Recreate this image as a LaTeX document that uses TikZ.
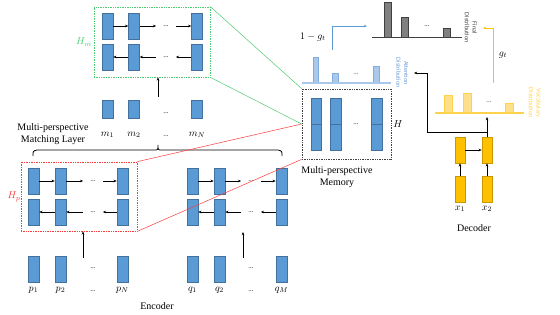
\documentclass[tikz,border=0pt]{standalone}
\usepackage{fontspec}
\setmainfont{Liberation Serif}
\newfontfamily\labfont{Carlito}
\usetikzlibrary{arrows.meta}
\definecolor{bfill}{HTML}{5B9BD5}
\definecolor{bdraw}{HTML}{41719C}
\definecolor{lbfill}{HTML}{A9C8EA}
\definecolor{lbdraw}{HTML}{7FAEDD}
\definecolor{lbtext}{HTML}{6F9FD8}
\definecolor{yfill}{HTML}{FFC000}
\definecolor{ydraw}{HTML}{C99700}
\definecolor{lyfill}{HTML}{FFE08A}
\definecolor{lydraw}{HTML}{FFD24D}
\definecolor{gfill}{HTML}{808080}
\definecolor{gdraw}{HTML}{404040}
\definecolor{grn}{HTML}{4FCB72}
\definecolor{rd}{HTML}{FF3B3B}
\begin{document}
\begin{tikzpicture}[x=1pt,y=-1pt,
  blk/.style={draw=bdraw,fill=bfill,line width=0.5pt,minimum width=11pt,minimum height=26pt,inner sep=0pt},
  sblk/.style={blk,minimum height=18pt},
  mblk/.style={blk,minimum width=10.5pt},
  yblk/.style={draw=ydraw,fill=yfill,line width=0.5pt,minimum width=10pt,minimum height=26pt,inner sep=0pt},
  dts/.style={font=\fontsize{7}{7}\selectfont,inner xsep=7pt,inner ysep=0pt},
  dtxt/.style={font=\fontsize{7}{7}\selectfont,inner sep=0pt},
  arr/.style={-{Stealth[length=3.2pt,width=2.6pt]},line width=0.8pt,black},
  lbl/.style={font=\fontsize{10}{12}\selectfont,inner sep=0pt},
  rot/.style={rotate=-90,align=center,font=\labfont\fontsize{6.3}{7.8}\selectfont,inner sep=0pt},
  attbar/.style={draw=lbdraw,fill=lbfill,line width=0.6pt},
  voc/.style={draw=lydraw,fill=lyfill,line width=0.6pt},
  fin/.style={draw=gdraw,fill=gfill,line width=0.6pt}
]
\useasboundingbox (0,0) rectangle (560,315);

% ---------- H_m box ----------
\node[draw=grn,densely dotted,line width=0.7pt,minimum width=116pt,minimum height=70pt,inner sep=0pt] (Hm) at (152,42) {};
\node[text=grn,lbl] at (84,42) {$H_m$};
\node[blk] (hmt1) at (107.5,26) {};
\node[blk] (hmt2) at (134,26) {};
\node[blk] (hmt3) at (197,26) {};
\node[blk] (hmb1) at (107.5,57) {};
\node[blk] (hmb2) at (134,57) {};
\node[blk] (hmb3) at (197,57) {};
\node[dts] (hmtd) at (166,26) {...};
\node[dts] (hmbd) at (166,57) {...};
\draw[arr] (hmt1) -- (hmt2);
\draw[arr] (hmt2) -- (hmtd);
\draw[arr] (hmtd) -- (hmt3);
\draw[arr] (hmb2) -- (hmb1);
\draw[arr] (hmbd) -- (hmb2);
\draw[arr] (hmb3) -- (hmbd);

% ---------- m row ----------
\node[sblk] (m1) at (107.5,109) {};
\node[sblk] (m2) at (134,109) {};
\node[sblk] (m3) at (197,109) {};
\node[dtxt] (md1) at (166,113) {...};
\node[lbl] (m1l) at (107.5,135) {$m_1$};
\node[lbl] (m2l) at (134,135) {$m_2$};
\node[dtxt] (md2) at (166,136) {...};
\node[lbl] (m3l) at (197,135) {$m_N$};
\coordinate (mup) at (158,97);
\draw[arr] (mup) -- (mup |- Hm.south);

\node[lbl,align=center] (mpml) at (53,134) {Multi-perspective\\Matching Layer};

% brace
\draw[line width=0.8pt] (33,156) .. controls (33,151) .. (37,150) -- (154,150) .. controls (158,150) .. (158,145)
  .. controls (158,150) .. (162,150) -- (278,150) .. controls (282,151) .. (282,156);

% ---------- H_p box ----------
\node[draw=rd,densely dotted,line width=0.7pt,minimum width=116pt,minimum height=69pt,inner sep=0pt] (Hp) at (79,196.5) {};
\node[text=rd,lbl] at (14,197) {$H_p$};
\node[blk] (hpt1) at (33.5,181) {};
\node[blk] (hpt2) at (60.5,181) {};
\node[blk] (hpt3) at (122.5,181) {};
\node[blk] (hpb1) at (33.5,212) {};
\node[blk] (hpb2) at (60.5,212) {};
\node[blk] (hpb3) at (122.5,212) {};
\node[dts] (hptd) at (93,181) {...};
\node[dts] (hpbd) at (93,212) {...};
\draw[arr] (hpt1) -- (hpt2);
\draw[arr] (hpt2) -- (hptd);
\draw[arr] (hptd) -- (hpt3);
\draw[arr] (hpb2) -- (hpb1);
\draw[arr] (hpbd) -- (hpb2);
\draw[arr] (hpb3) -- (hpbd);

% ---------- H_q ----------
\node[blk] (hqt1) at (192.5,181) {};
\node[blk] (hqt2) at (219.5,181) {};
\node[blk] (hqt3) at (281.5,181) {};
\node[blk] (hqb1) at (192.5,212) {};
\node[blk] (hqb2) at (219.5,212) {};
\node[blk] (hqb3) at (281.5,212) {};
\node[dts] (hqtd) at (251,181) {...};
\node[dts] (hqbd) at (251,212) {...};
\draw[arr] (hqt1) -- (hqt2);
\draw[arr] (hqt2) -- (hqtd);
\draw[arr] (hqtd) -- (hqt3);
\draw[arr] (hqb2) -- (hqb1);
\draw[arr] (hqbd) -- (hqb2);
\draw[arr] (hqb3) -- (hqbd);

% ---------- inputs ----------
\node[blk] (p1) at (33.5,269) {};
\node[blk] (p2) at (60.5,269) {};
\node[blk] (p3) at (122.5,269) {};
\node[dtxt] (pd1) at (93,268) {...};
\node[lbl] (p1l) at (33.5,290) {$p_1$};
\node[lbl] (p2l) at (60.5,290) {$p_2$};
\node[dtxt] (pd2) at (93,291) {...};
\node[lbl] (p3l) at (122.5,290) {$p_N$};
\node[blk] (q1) at (192.5,269) {};
\node[blk] (q2) at (219.5,269) {};
\node[blk] (q3) at (281.5,269) {};
\node[dtxt] (qd1) at (251,268) {...};
\node[lbl] (q1l) at (192.5,290) {$q_1$};
\node[lbl] (q2l) at (219.5,290) {$q_2$};
\node[dtxt] (qd2) at (251,291) {...};
\node[lbl] (q3l) at (281.5,290) {$q_M$};
\coordinate (pup) at (83,258);
\draw[arr] (pup) -- (pup |- Hp.south);
\coordinate (qup) at (243,258);
\coordinate (qtop) at (243,232);
\draw[arr] (qup) -- (qtop);
\node[lbl] (enc) at (157,306) {Encoder};

% ---------- memory ----------
\node[draw=gdraw,densely dotted,line width=0.7pt,minimum width=89pt,minimum height=70pt,inner sep=0pt] (Mem) at (346.5,124) {};
\node[mblk] (me1t) at (316,111) {};
\node[mblk] (me1b) at (316,137) {};
\node[mblk] (me2t) at (335.5,111) {};
\node[mblk] (me2b) at (335.5,137) {};
\node[mblk] (me3t) at (376.5,111) {};
\node[mblk] (me3b) at (376.5,137) {};
\node[dtxt] (med) at (356,124) {...};
\node[lbl] (Hl) at (398,124) {$H$};
\node[lbl,align=center] (meml) at (337,177.5) {Multi-perspective\\Memory};

% zoom lines
\draw[grn,line width=0.5pt] (Hm.north east) -- (Mem.north west);
\draw[grn,line width=0.5pt] (Hm.south east) -- (Mem.west);
\draw[rd,line width=0.5pt] (Hp.north east) -- (Mem.west);
\draw[rd,line width=0.5pt] (Hp.south east) -- (Mem.south west);

% ---------- attention distribution ----------
\draw[attbar] (313,57) rectangle (318.5,83);
\draw[attbar] (332.5,73) rectangle (338,83);
\draw[attbar] (373.5,66) rectangle (379,83);
\draw[lbfill,line width=1.3pt] (302,83) -- (391,83);
\node[dtxt,text=gdraw] (ad) at (356,74) {...};
\node[rot,text=lbtext] (attl) at (402.5,73) {Attention\\Distribution};

% 1 - g_t
\coordinate (bstart) at (332,50);
\coordinate (bend) at (367,26);
\draw[bfill,line width=0.8pt,-{Stealth[length=3pt,width=2.5pt]}] (bstart) |- (bend);
\node[lbl] (omg) at (313,37) {$1-g_t$};

% ---------- final distribution ----------
\draw[fin] (384,2) rectangle (391,37);
\draw[fin] (401,17) rectangle (408,37);
\draw[fin] (443,28) rectangle (450,37);
\draw[gdraw,line width=0.9pt] (372,37) -- (462,37);
\node[dtxt] (fd) at (427,26) {...};
\node[rot,text=gdraw] (finl) at (471,28) {Final\\Distribution};

% g_t
\coordinate (ystart) at (493,83);
\coordinate (yend) at (483,28);
\draw[yfill,line width=0.8pt,-{Stealth[length=3pt,width=2.5pt]}] (ystart) |- (yend);
\node[lbl] (gtl) at (503,55) {$g_t$};

% ---------- vocabulary distribution ----------
\draw[voc] (444,95) rectangle (452,113);
\draw[voc] (463,93) rectangle (471,113);
\draw[voc] (505,103) rectangle (513,113);
\draw[lydraw,line width=1.2pt] (435,113) -- (524,113);
\node[dtxt,text=gdraw] (vd) at (489,102) {...};
\node[rot,text=lydraw] (vocl) at (535,103) {Vocabulary\\Distribution};

% ---------- decoder ----------
\node[yblk] (d1t) at (460,150) {};
\node[yblk] (d2t) at (487,150) {};
\node[yblk] (d1b) at (460,189) {};
\node[yblk] (d2b) at (487,189) {};
\draw[arr] (d1b) -- (d1t);
\draw[arr] (d2b) -- (d2t);
\draw[arr] (d1t) -- (d2t);
\coordinate (vup) at (487,117);
\draw[arr] (d2t.north) -- (vup);
\coordinate (junc) at (487,132);
\coordinate (attin) at (414,73);
\draw[arr] (junc) -- (427,132) -- (427,73) -- (attin);
\node[lbl] (x1l) at (460,209) {$x_1$};
\node[lbl] (x2l) at (487,209) {$x_2$};
\node[lbl] (decl) at (474,228) {Decoder};
\end{tikzpicture}
\end{document}
